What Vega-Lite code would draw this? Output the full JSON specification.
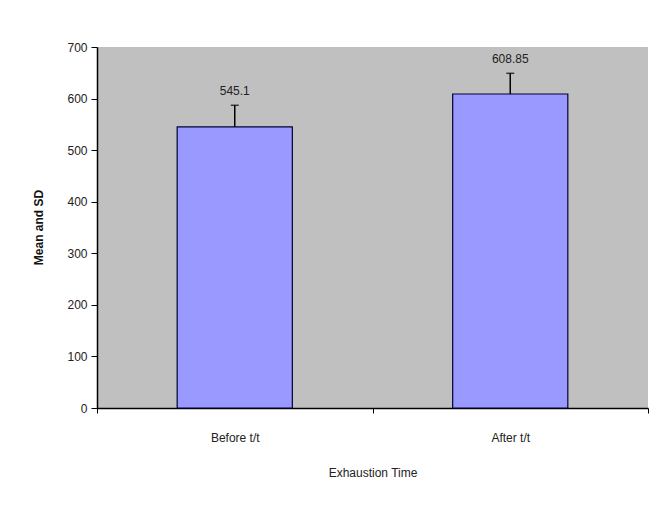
{
  "$schema": "https://vega.github.io/schema/vega-lite/v6.json",
  "autosize": "none",
  "width": 551,
  "height": 361,
  "padding": {"left": 97, "top": 47, "right": 18, "bottom": 100},
  "background": "white",
  "config": {
    "font": "Liberation Sans",
    "view": {"fill": "#C0C0C0", "stroke": null}
  },
  "data": {
    "values": [
      {"time": "Before t/t", "mean": 545.1, "upper": 587, "label": "545.1"},
      {"time": "After t/t", "mean": 608.85, "upper": 649, "label": "608.85"}
    ]
  },
  "encoding": {
    "x": {
      "field": "time",
      "type": "nominal",
      "sort": null,
      "scale": {"paddingInner": 0, "paddingOuter": 0},
      "axis": {
        "title": "Exhaustion Time",
        "titleFont": "Liberation Sans",
        "titleFontSize": 12,
        "titleFontWeight": "normal",
        "titleColor": "#222222",
        "titlePadding": 24,
        "labelAngle": 0,
        "labelFontSize": 12,
        "labelColor": "#222222",
        "labelPadding": 19,
        "tickBand": "extent",
        "tickSize": 5,
        "tickColor": "#000000",
        "domainColor": "#000000",
        "domainWidth": 1.5,
        "grid": false
      }
    }
  },
  "layer": [
    {
      "mark": {"type": "bar", "width": {"band": 0.418}, "fill": "#9999FF", "stroke": "#000033", "strokeWidth": 1.2},
      "encoding": {
        "y": {
          "field": "mean",
          "type": "quantitative",
          "scale": {"domain": [0, 700], "nice": false},
          "axis": {
            "title": "Mean and SD",
            "titleFontSize": 12,
            "titleFontWeight": "bold",
            "titleColor": "#111111",
            "titleX": -52,
            "titleY": 180,
            "values": [0, 100, 200, 300, 400, 500, 600, 700],
            "labelFontSize": 12,
            "labelColor": "#222222",
            "labelPadding": 4,
            "tickSize": 6,
            "tickColor": "#000000",
            "domainColor": "#000000",
            "domainWidth": 1.5,
            "grid": false
          }
        }
      }
    },
    {
      "mark": {"type": "rule", "color": "#000000", "strokeWidth": 1.5},
      "encoding": {
        "y": {"field": "mean", "type": "quantitative"},
        "y2": {"field": "upper"}
      }
    },
    {
      "mark": {"type": "tick", "color": "#000000", "size": 8, "thickness": 1.5},
      "encoding": {
        "y": {"field": "upper", "type": "quantitative"}
      }
    },
    {
      "mark": {"type": "text", "dy": -14, "fontSize": 12, "color": "#222222"},
      "encoding": {
        "y": {"field": "upper", "type": "quantitative"},
        "text": {"field": "label"}
      }
    }
  ]
}
